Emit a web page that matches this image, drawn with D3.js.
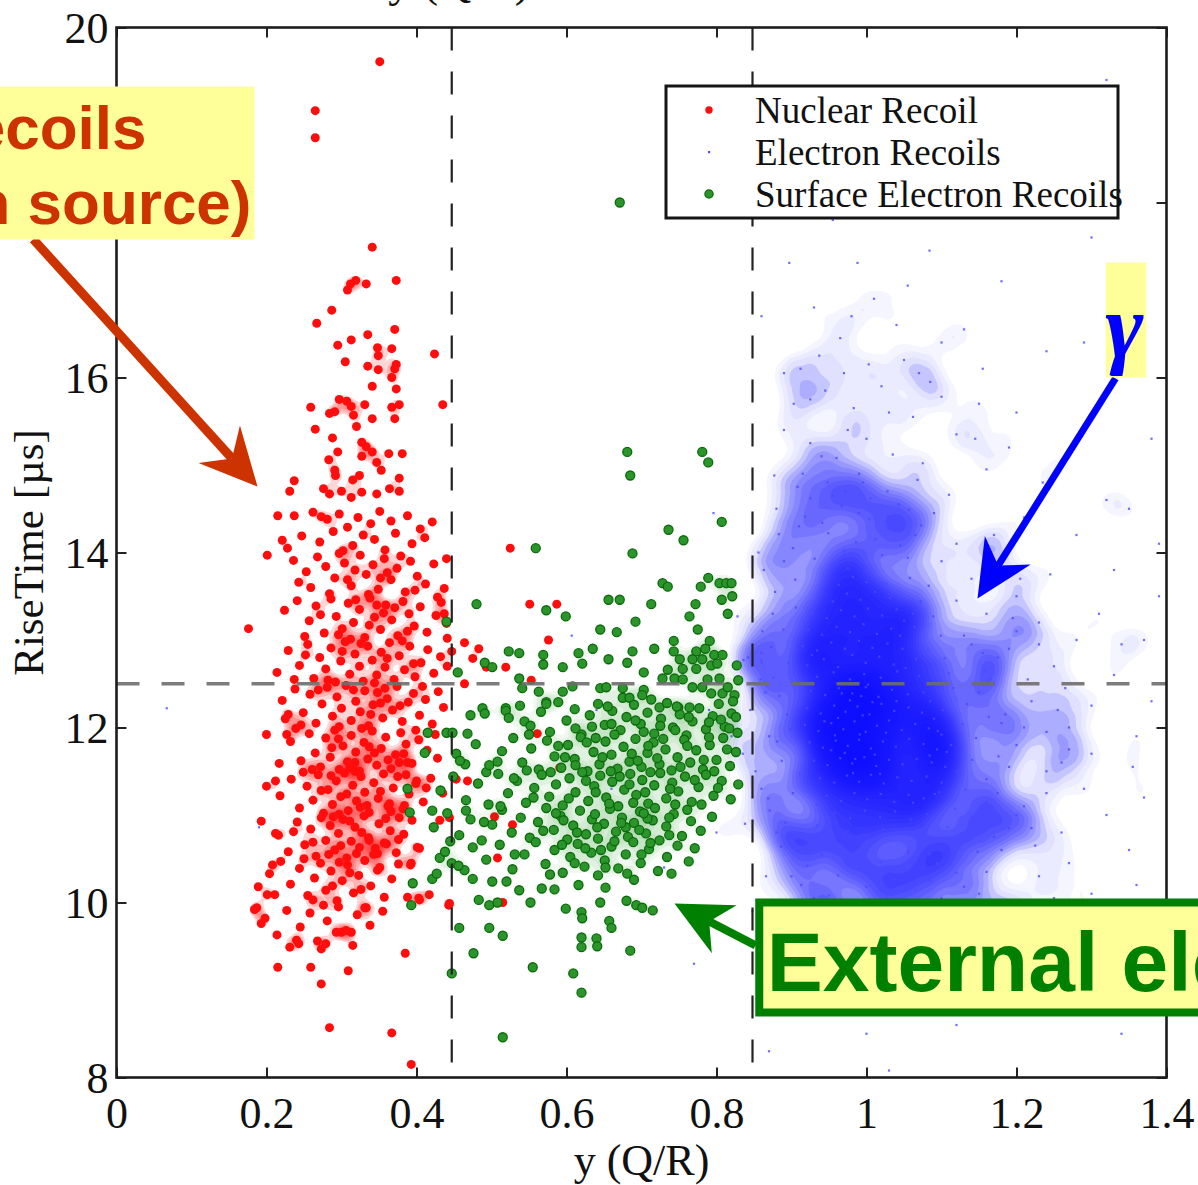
<!DOCTYPE html>
<html><head><meta charset="utf-8">
<script src="https://cdn.jsdelivr.net/npm/d3@7"></script>
<style>html,body{margin:0;padding:0;background:#fff;overflow:hidden}svg{display:block}</style>
</head><body>
<svg id="c" width="1198" height="1185"></svg>
<script>
const xTicks=[0,0.2,0.4,0.6,0.8,1,1.2,1.4];
const xTickLabels=["0","0.2","0.4","0.6","0.8","1","1.2","1.4"];
const yTicks=[8,10,12,14,16,18,20];
const yTickLabels=["8","10","12","14","16","18","20"];
const seriesNames=["Nuclear Recoil","Electron Recoils","Surface Electron Recoils"];
const xCuts=[0.447,0.848];
const yCuts=[12.5];

// Nuclear recoils (red)
const nuclearRecoil=[
[.351,19.61],[.265,19.05],[.265,18.74],[.341,17.49],[.312,17.07],[.319,17.11],[.308,17.0],[.333,17.07],[.373,17.11],[.287,16.77],[.267,16.62],[.371,16.55],[.335,16.49],[.313,16.43],[.295,16.37],[.348,16.34],[.367,16.33],[.349,16.25],[.424,16.27],[.305,16.18],[.335,16.13],[.349,16.09],[.373,16.15],[.371,16.1],[.367,16.0],[.341,15.9],[.373,15.87],[.435,15.69],[.259,15.66],[.297,15.75],[.307,15.73],[.313,15.67],[.331,15.69],[.367,15.66],[.377,15.69],[.284,15.59],[.291,15.61],[.316,15.57],[.341,15.53],[.371,15.53],[.265,15.41],[.32,15.44],[.288,15.31],[.327,15.26],[.333,15.21],[.341,15.15],[.295,15.15],[.283,15.06],[.327,15.1],[.363,15.13],[.381,15.13],[.347,15.03],[.353,14.94],[.291,14.94],[.292,14.88],[.315,14.83],[.324,14.88],[.377,14.85],[.237,14.82],[.231,14.7],[.276,14.73],[.284,14.67],[.3,14.7],[.313,14.63],[.327,14.69],[.347,14.67],[.364,14.73],[.377,14.7],[.215,14.42],[.237,14.42],[.273,14.41],
[.262,14.46],[.281,14.38],[.297,14.44],[.308,14.29],[.322,14.4],[.339,14.33],[.351,14.47],[.366,14.36],[.388,14.42],[.405,14.27],[.247,14.19],[.271,14.12],[.289,14.24],[.315,14.08],[.329,14.2],[.344,14.15],[.358,14.03],[.372,14.22],[.394,14.1],[.411,14.17],[.302,14.02],[.228,14.05],[.201,13.97],[.221,14.14],
[.236,13.91],[.253,13.78],[.268,13.95],[.279,13.84],[.291,13.71],[.304,13.88],[.313,13.62],[.325,13.97],[.333,13.75],[.342,13.86],[.349,13.58],[.357,13.93],[.366,13.69],[.374,13.82],[.385,13.55],[.392,13.9],[.401,13.73],[.412,13.64],[.423,13.87],[.259,13.6],[.284,13.53],[.297,13.99],[.318,13.8],[.336,13.52],[.361,13.77],[.379,13.96],[.398,13.57],[.243,13.66],[.308,13.69],[.352,13.71],
[.176,13.13],[.224,13.34],[.241,13.45],[.257,13.22],[.266,13.39],[.277,13.08],[.286,13.47],[.293,13.27],[.301,13.13],[.309,13.42],[.316,13.2],[.324,13.35],[.331,13.03],[.338,13.48],[.344,13.26],[.352,13.12],[.359,13.4],[.367,13.23],[.375,13.05],[.382,13.44],[.39,13.3],[.397,13.16],[.405,13.38],[.414,13.09],[.426,13.28],[.433,13.43],[.272,13.29],[.296,13.06],[.319,13.46],[.337,13.17],[.356,13.31],[.371,13.37],[.388,13.1],[.251,13.04],[.347,13.4],[.312,13.01],
[.214,12.63],[.229,12.88],[.244,12.71],[.255,12.95],[.263,12.56],[.271,12.8],[.279,12.67],[.286,12.91],[.292,12.52],[.299,12.76],[.305,12.98],[.311,12.61],[.318,12.84],[.324,12.7],[.329,12.53],[.335,12.93],[.341,12.77],[.347,12.6],[.353,12.86],[.358,12.69],[.364,12.97],[.37,12.55],[.377,12.82],[.384,12.66],[.391,12.93],[.398,12.58],[.406,12.74],[.415,12.89],[.423,12.62],[.432,12.81],[.441,12.7],[.282,12.54],[.301,12.87],[.326,12.96],[.344,12.51],[.361,12.79],[.381,12.99],[.252,12.83],[.237,12.55],[.396,12.73],
[.221,12.31],[.238,12.44],[.249,12.17],[.258,12.38],[.266,12.05],[.274,12.27],[.281,12.46],[.288,12.13],[.294,12.35],[.3,12.22],[.306,12.48],[.313,12.08],[.319,12.3],[.325,12.18],[.331,12.42],[.336,12.02],[.342,12.26],[.348,12.4],[.355,12.11],[.361,12.33],[.368,12.2],[.374,12.47],[.381,12.07],[.389,12.29],[.396,12.39],[.404,12.14],[.412,12.32],[.421,12.04],[.429,12.41],[.436,12.23],[.246,12.03],[.269,12.43],[.297,12.01],[.316,12.43],[.339,12.15],[.358,12.45],[.378,12.25],[.408,12.47],[.229,12.15],[.352,12.28],
[.232,11.84],[.246,11.62],[.257,11.93],[.265,11.71],[.272,11.55],[.279,11.88],[.285,11.66],[.291,11.97],[.297,11.52],[.302,11.79],[.308,11.61],[.313,11.91],[.319,11.72],[.324,11.5],[.33,11.83],[.335,11.64],[.341,11.96],[.347,11.57],[.353,11.76],[.359,11.89],[.366,11.53],[.372,11.69],[.379,11.94],[.386,11.81],[.394,11.59],[.403,11.86],[.414,11.74],[.425,11.92],[.261,11.52],[.287,11.77],[.311,11.54],[.327,11.99],[.344,11.71],[.362,11.63],[.383,11.7],[.399,11.97],[.239,11.99],[.296,11.87],[.318,11.6],[.337,11.78],
[.218,11.22],[.233,11.41],[.244,11.08],[.254,11.33],[.262,11.17],[.269,11.46],[.276,11.02],[.282,11.29],[.288,11.12],[.293,11.39],[.299,11.21],[.304,11.48],[.309,11.05],[.315,11.34],[.32,11.16],[.326,11.44],[.331,11.26],[.337,11.03],[.343,11.37],[.349,11.19],[.356,11.47],[.362,11.1],[.369,11.31],[.375,11.44],[.382,11.07],[.39,11.24],[.399,11.36],[.409,11.15],[.419,11.42],[.249,11.49],[.273,11.28],[.297,11.01],[.318,11.5],[.334,11.11],[.352,11.27],[.366,11.04],[.386,11.46],[.286,11.45],[.307,11.24],[.325,11.09],
[.216,10.77],[.229,10.58],[.241,10.92],[.251,10.66],[.259,10.84],[.266,10.53],[.273,10.97],[.279,10.71],[.285,10.88],[.291,10.6],[.296,10.79],[.302,10.95],[.307,10.51],[.313,10.7],[.318,10.86],[.324,10.63],[.33,10.99],[.336,10.74],[.343,10.55],[.35,10.9],[.357,10.68],[.365,10.82],[.373,10.57],[.383,10.78],[.394,10.94],[.262,10.69],[.283,10.55],[.299,10.65],[.311,10.93],[.327,10.8],[.345,10.62],[.359,10.96],[.236,10.81],[.289,10.98],[.32,10.56],[.376,10.72],
[.204,10.33],[.219,10.47],[.232,10.21],[.244,10.39],[.255,10.08],[.264,10.28],[.272,10.45],[.279,10.14],[.286,10.36],[.294,10.02],[.301,10.25],[.308,10.43],[.316,10.11],[.323,10.31],[.331,10.48],[.339,10.19],[.348,10.37],[.357,10.06],[.367,10.27],[.376,10.44],[.25,10.5],[.288,10.19],[.311,10.34],[.262,10.03],[.326,10.15],[.297,10.46],
[.198,9.82],[.214,9.63],[.227,9.91],[.245,9.72],[.258,9.88],[.268,9.56],[.281,9.79],[.296,9.95],[.306,9.68],[.321,9.86],[.338,9.74],[.355,9.9],[.276,9.97],[.243,9.53],
[.2,11.92],[.227,11.92],[.225,12.1],[.2,11.33],[.212,11.39],[.193,10.93],[.212,10.79],[.217,11.59],[.189,10.18],[.201,10.09],[.211,10.09],[.208,10.43],[.187,9.94],[.193,9.76],[.184,9.92],[.231,9.49],[.24,9.57],[.215,9.26],[.259,9.26],[.273,9.07],[.279,9.53],[.273,9.47],[.293,9.66],[.3,9.66],[.313,9.66],[.315,9.51],[.309,9.22],[.385,9.42],[.284,8.57],[.367,8.51],[.393,8.15],[.333,9.94],
[.377,11.6],[.388,11.6],[.4,11.39],[.413,11.31],[.435,11.25],[.428,11.65],[.364,11.13],[.384,11.11],[.377,10.97],[.404,10.62],[.392,10.43],[.388,10.06],[.403,10.05],[.417,10.09],[.443,9.97],[.351,10.4],[.331,9.94],[.348,10.56],[.36,10.67],[.337,10.71],
[.525,14.05],[.551,13.41],[.587,13.41],[.576,13.0],[.464,12.97],[.483,12.9],[.475,12.79],[.493,12.69],[.519,12.69],[.553,12.54],[.464,12.5],[.441,13.02],[.447,12.87],[.44,13.19],[.437,13.3],[.421,14.35],[.44,13.93],[.437,13.59],[.428,13.49],[.561,11.93],[.591,11.54],[.504,10.98],[.528,10.89],[.508,10.51],[.515,10.0],[.444,9.99],[.453,11.41],[.468,11.39],[.444,10.97],[.431,10.94],[.401,10.63],[.393,10.45],[.404,10.03]
];

// Electron recoils (blue)
const electronRecoils=[
[.934,12.58],[.956,12.63],[.978,12.55],[.997,12.61],[1.019,12.57],[1.041,12.64],
[.926,12.42],[.945,12.37],[.963,12.45],[.981,12.39],[.999,12.46],[1.016,12.35],[1.034,12.43],[1.055,12.38],
[.921,12.22],[.939,12.16],[.957,12.25],[.972,12.18],[.988,12.24],[1.004,12.15],[1.02,12.27],[1.037,12.19],[1.056,12.23],[1.074,12.17],
[.918,12.03],[.936,11.96],[.953,12.05],[.969,11.98],[.984,12.07],[.999,11.95],[1.014,12.02],[1.03,12.08],[1.047,11.97],[1.065,12.04],[1.083,11.99],
[.924,11.83],[.942,11.77],[.959,11.85],[.975,11.79],[.99,11.86],[1.006,11.76],[1.022,11.84],[1.039,11.78],[1.057,11.87],[1.076,11.81],[1.094,11.75],
[.93,11.62],[.948,11.57],[.965,11.65],[.981,11.59],[.997,11.66],[1.013,11.56],[1.03,11.63],[1.048,11.58],[1.067,11.64],[1.087,11.6],[1.105,11.55],
[.938,11.42],[.957,11.37],[.974,11.45],[.99,11.38],[1.006,11.46],[1.023,11.36],[1.041,11.43],[1.06,11.39],[1.08,11.44],[1.1,11.37],
[.947,11.22],[.966,11.16],[.984,11.25],[1.001,11.18],[1.019,11.24],[1.037,11.15],[1.056,11.23],[1.076,11.19],[1.097,11.26],
[.957,11.02],[.978,10.96],[.998,11.05],[1.018,10.98],[1.038,11.04],[1.059,10.95],[1.081,11.01],
[.975,10.82],[.999,10.77],[1.022,10.84],[1.046,10.78],[1.07,10.83],
[.962,12.11],[.978,12.31],[.991,11.92],[1.008,12.29],[.971,11.71],[.995,12.14],[1.011,11.69],[.958,11.91],[.985,11.64],[1.026,11.94],[.967,12.39],[1.002,12.49],[.944,12.07],[1.04,12.3],[.982,11.48],[1.018,11.47],[.953,11.74],[.993,12.36],
[.921,12.71],[.943,12.78],[.962,12.69],[.981,12.83],[.999,12.74],[1.017,12.81],[1.036,12.72],
[.915,12.93],[.934,12.88],[.953,12.97],[.971,12.9],[.99,12.99],[1.008,12.91],[1.028,12.96],
[.922,13.12],[.941,13.06],[.96,13.15],[.978,13.09],[.996,13.18],[1.014,13.07],[1.033,13.13],
[.928,13.3],[.947,13.25],[.966,13.34],[.984,13.27],[1.002,13.36],[1.021,13.28],
[.936,13.49],[.955,13.44],[.974,13.53],[.992,13.46],[1.011,13.55],
[.944,13.68],[.963,13.63],[.982,13.72],[1.0,13.66],
[.953,13.86],[.975,13.82],[.994,13.91],
[1.04,13.35],[1.05,13.22],[1.031,13.48],[1.045,13.05],[1.062,13.3],[1.027,13.64],[1.048,12.9],[1.066,12.78],[1.09,12.1],[1.1,11.92],[1.085,12.3],[1.107,11.72],
[.902,14.05],[.918,14.41],[.931,13.93],[.949,14.22],[.967,14.53],[.986,14.12],[1.004,14.38],[1.021,13.97],[1.038,14.27],[1.057,14.49],[.925,14.62],[.97,14.02],[1.012,14.15],[.941,14.34],[1.045,14.08],[.99,14.45],[.883,14.21],[1.073,14.31],
[.878,13.55],[.889,13.12],[.896,12.74],[.884,12.36],[.899,11.98],[.887,11.62],[.902,11.25],[.892,10.91],[.907,10.58],[.873,12.92],[.881,11.84],[.906,13.37],[.894,12.15],[.911,11.47],[.869,11.19],[.9,10.76],[.876,12.57],[.913,12.51],[.905,13.69],[.886,10.64],
[1.058,13.71],[1.072,13.44],[1.064,13.15],[1.081,12.87],[1.093,12.58],[1.076,12.4],[1.102,12.2],[1.095,11.96],[1.113,11.8],[1.121,11.5],[1.132,11.29],[1.118,11.07],[1.108,10.86],[1.125,10.62],[1.094,10.45],[1.141,11.63],[1.152,11.08],[1.137,10.83],[1.089,13.27],[1.104,12.79],[1.116,12.45],[1.128,12.04],[1.146,11.88],[1.16,11.41],[1.055,13.94],[1.083,13.62],[1.099,13.05],[1.11,12.62],[1.134,12.27],[1.163,12.12],[1.148,10.58],[1.12,10.34],[1.171,10.97],[1.157,12.64],[1.176,11.67],
[.921,10.42],[.943,10.65],[.962,10.31],[.981,10.52],[1.0,10.18],[1.019,10.46],[1.037,10.27],[1.055,10.58],[1.074,10.39],[1.092,10.69],[.95,10.08],[.99,10.37],[1.028,10.05],[1.066,10.15],[1.011,10.71],[.934,10.88],[.969,10.74],[1.084,10.55],[.913,10.2],[1.045,10.41],
[.918,11.37],[.927,12.83],[1.062,11.14],[1.07,12.59],[1.084,11.68],[1.052,12.68],[.934,11.12],[1.091,11.24],
[.88,14.5],[.915,14.9],[.94,15.1],[.972,14.7],[1.005,14.62],[1.043,14.55],[1.09,14.45],[1.12,14.1],[1.14,13.7],[1.13,13.05],[1.15,12.4],[1.175,12.8],[1.19,11.55],[1.2,11.0],[1.17,10.75],[1.16,10.35],[1.13,10.18],[1.1,10.05],[1.07,9.8],[1.04,9.85],[1.0,9.7],[.97,9.9],[.93,10.05],[.9,10.3],[.88,10.8],[.86,11.3],[.87,11.9],[.865,12.4],[.86,12.85],[.875,13.3],[.89,13.9],[.91,14.3],[.955,14.65],[.995,14.8],[1.03,14.4],[1.065,14.2],[1.1,13.9],[1.12,13.45],[1.14,12.95],[1.165,12.55],[1.18,12.05],[1.16,11.15],[1.14,10.85],[1.11,10.55],[1.085,10.25],[1.05,10.15],[1.015,10.3],[.975,10.45],[.94,10.55],[.925,10.75],
[.897,17.31],[.988,17.31],[1.084,17.45],[1.32,19.4],[.93,16.8],[.965,16.45],[1.01,16.9],[1.05,16.2],[.912,16.1],[.945,15.85],[.983,15.65],[1.02,15.9],[1.062,15.55],[1.1,15.78],[.89,15.4],[.925,15.25],[.96,15.08],[1.0,15.3],[1.035,15.12],[1.075,15.02],[1.12,15.35],[1.16,14.95],[.877,14.88],[.908,14.75],[.948,14.8],[.99,14.9],[1.028,14.7],[1.068,14.83],[1.11,14.66],[1.2,15.6],[1.24,16.3],[1.13,16.55],[.86,16.7],[1.18,17.1],[1.3,17.6],[1.1,17.9],[1.02,18.2],[.955,17.8],[1.26,15.05],[1.35,14.5],[1.33,13.8],[1.21,14.4],[1.17,14.2],[.937,16.25],[1.04,16.6],[.975,15.4],[1.085,15.95],[.903,15.7],[1.145,15.3],[1.003,16.15],
[.89,16.05],[.925,15.75],[.97,16.05],[1.03,15.6],[1.07,16.05],[1.1,16.4],[1.15,15.7],[1.19,15.2],[1.235,14.8],[.98,16.7],[1.055,17.05],[1.155,16.1],[1.32,14.6],[1.38,15.3],[1.29,16.4],[1.35,16.9],
[1.18,13.9],[1.2,13.5],[1.23,13.2],[1.19,12.9],[1.25,12.7],[1.22,12.3],[1.27,12.0],[1.2,11.8],[1.24,11.5],[1.29,11.3],[1.21,11.1],[1.26,10.8],[1.18,10.6],[1.23,10.3],[1.3,10.1],[1.19,10.0],[1.33,12.6],[1.36,11.9],[1.31,13.3],[1.38,12.3],[1.35,10.6],[1.28,9.7],[1.22,9.5],[1.33,9.2],[1.37,13.0],[1.16,13.3],[1.17,12.5],[1.185,12.15],[1.175,11.25],[1.19,10.85],[1.215,12.55],[1.245,13.75],[1.27,11.75],[1.3,12.25],[1.32,11.0],[1.39,14.1],[1.28,14.2],[1.355,11.55],[1.25,10.05],[1.165,9.8],[1.21,9.15],[1.29,8.9],[1.395,9.8],[1.34,8.5],[1.24,11.95],[1.155,12.85],[1.2,13.1],[1.265,12.45],[1.225,10.65],[1.31,9.6],
[1.16,14.05],[1.205,13.7],[1.23,12.95],[1.21,12.0],[1.24,11.25],[1.22,10.85],[1.255,12.2],[1.195,13.25],[1.28,13.0],[1.26,11.6],[1.2,9.9],[1.27,10.45],[1.3,11.7],[1.34,12.95],[1.37,11.2],[1.39,13.5],[1.36,10.2],
[.845,12.2],[.852,11.5],[.861,13.1],[.838,10.9],[.866,10.3],[.856,14.0],[.842,12.8],[.871,11.05],[.848,9.9],[.863,13.8],[.835,11.7],[.859,12.55],
[.9,9.85],[.93,9.6],[.96,9.82],[.99,9.55],[1.02,9.75],[1.05,9.45],[1.08,9.9],[1.11,9.65],[1.14,9.4],[.915,9.3],[.975,9.15],[1.035,9.1],[1.095,9.2],[.95,8.8],[1.06,8.75],[1.03,8.08],[.88,9.05],[1.12,8.6],[1.0,8.5],[.87,8.3],[1.15,10.1],[1.13,9.95],[.94,9.95],[1.01,9.98],[.95,9.4],[1.06,9.25],[1.1,9.05],[1.165,9.25],[.9,8.95],[1.02,8.9],
[.067,12.22],[.19,10.86],[.796,14.45],[.828,13.27],[.607,13.05],[.836,12.77],[.79,12.2],[.66,11.3],[.73,10.4],[.77,9.3],[.64,12.2],[.8,10.8],[.82,11.9]
];

// Surface electron recoils (green)
const surfaceElectronRecoils=[
[.671,18.0],[.681,15.15],[.685,14.88],[.781,15.15],[.789,15.03],[.807,14.35],[.736,14.26],[.756,14.14],[.688,13.99],[.559,14.05],[.728,13.65],[.735,13.61],[.779,13.61],[.789,13.71],[.804,13.65],[.813,13.65],[.82,13.65],[.807,13.46],[.821,13.5],[.815,13.3],[.772,13.41],[.764,13.27],[.713,13.41],[.692,13.21],[.656,13.46],[.671,13.46],[.645,13.12],[.667,13.09],[.635,12.9],[.656,12.78],[.681,12.74],[.688,12.87],[.717,12.9],[.743,12.99],[.743,12.87],[.775,13.12],[.791,12.99],[.785,12.9],[.773,12.87],[.751,12.78],[.768,12.78],[.781,12.78],[.797,12.83],[.808,12.83],[.827,12.71],[.735,12.66],[.755,12.67],[.773,12.67],[.793,12.71],[.801,12.73],[.703,12.63],[.728,12.56],[.744,12.56],[.755,12.55],[.788,12.55],[.804,12.56],[.829,12.54],[.48,13.41],[.573,13.34],[.599,13.27],[.44,13.21],[.523,12.87],[.537,12.85],[.569,12.83],[.569,12.72],[.595,12.69],[.616,12.85],[.621,12.73],[.491,12.74],[.501,12.69],[.455,12.63],[.537,12.56],[.541,12.45],[.563,12.41],[.595,12.41],[.608,12.47],[.645,12.45],[.653,12.46],[.675,12.45],[.675,12.34],[.684,12.34],[.703,12.43],[.701,12.37],[.713,12.32],[.724,12.23],[.749,12.23],[.764,12.23],[.768,12.46],[.781,12.46],[.793,12.39],[.808,12.39],[.815,12.46],[.824,12.37],[.573,12.29],[.519,12.22],[.488,12.22],
[.457,9.71],[.497,9.71],[.515,9.62],[.476,9.42],[.555,9.26],[.609,9.19],[.62,8.97],[.447,9.19],[.515,8.46],[.685,9.45],[.62,9.6],[.62,9.49],[.64,9.59],[.641,9.5],[.657,9.79],[.66,9.71],[.62,9.89],[.621,9.82],[.599,9.93],[.645,10.0],[.68,10.02],[.693,9.97],[.701,9.94],[.715,9.91],[.393,9.97],[.395,10.22],[.421,10.27],[.483,10.03],[.497,9.97],[.508,10.0],[.552,10.0],[.567,10.16],[.584,10.15],[.537,10.14],[.52,10.24],[.501,10.24],[.475,10.27],[.464,10.37],[.447,10.45],[.427,10.33],[.431,10.51],[.415,11.94],[.44,11.94],[.448,11.94],[.468,11.93],[.472,12.14],[.491,12.16],[.519,12.19],[.544,12.07],[.573,12.27],[.411,11.71],[.453,11.7],[.465,11.58],[.493,11.49],[.508,11.61],[.421,11.05],[.391,11.03],[.388,11.3],
[.523,12.11],[.538,12.25],[.552,12.02],[.566,12.18],[.578,11.95],[.589,12.29],[.6,12.08],[.611,12.21],[.62,11.92],[.631,12.14],[.642,12.27],[.651,12.03],[.661,12.19],[.672,11.97],[.68,12.12],[.69,12.26],[.699,12.04],[.708,12.17],[.717,11.93],[.726,12.1],[.734,12.28],[.742,12.0],[.751,12.15],[.76,11.91],[.768,12.07],[.777,12.22],[.786,11.98],[.795,12.13],[.803,12.27],[.811,12.01],[.82,12.16],[.828,11.94],[.612,11.99],[.655,12.24],[.703,11.95],[.747,12.24],[.79,12.06],[.822,12.3],
[.458,11.62],[.479,11.81],[.497,11.57],[.514,11.73],[.529,11.88],[.541,11.6],[.553,11.76],[.563,11.52],[.574,11.85],[.584,11.67],[.593,11.54],[.602,11.8],[.611,11.64],[.619,11.89],[.628,11.5],[.636,11.72],[.644,11.58],[.652,11.84],[.66,11.69],[.668,11.53],[.676,11.78],[.684,11.61],[.692,11.87],[.7,11.55],[.708,11.71],[.716,11.83],[.724,11.58],[.732,11.75],[.74,11.51],[.748,11.66],[.757,11.86],[.765,11.6],[.773,11.74],[.782,11.52],[.791,11.8],[.8,11.63],[.809,11.88],[.818,11.56],[.826,11.72],[.639,11.88],[.687,11.7],[.721,11.65],[.761,11.79],[.797,11.5],[.598,11.66],[.547,11.51],
[.432,11.28],[.449,11.44],[.466,11.17],[.482,11.36],[.496,11.12],[.509,11.47],[.522,11.25],[.534,11.39],[.546,11.14],[.557,11.31],[.567,11.46],[.577,11.21],[.586,11.35],[.595,11.11],[.604,11.42],[.612,11.26],[.621,11.49],[.629,11.16],[.637,11.33],[.645,11.45],[.653,11.2],[.661,11.38],[.669,11.1],[.677,11.29],[.685,11.47],[.693,11.23],[.701,11.4],[.709,11.13],[.717,11.34],[.725,11.48],[.733,11.19],[.741,11.37],[.749,11.27],[.758,11.44],[.767,11.15],[.776,11.32],[.786,11.46],[.796,11.22],[.807,11.39],[.819,11.18],[.829,11.35],[.659,11.5],[.705,11.26],[.745,11.12],[.639,11.26],[.579,11.49],[.689,11.14],
[.423,10.86],[.441,11.02],[.457,10.77],[.472,10.95],[.487,10.71],[.501,10.89],[.514,11.06],[.527,10.8],[.539,10.97],[.551,10.74],[.562,10.92],[.573,11.08],[.583,10.83],[.592,10.99],[.601,10.72],[.609,10.88],[.618,11.05],[.626,10.78],[.634,10.95],[.642,10.73],[.65,10.9],[.658,11.07],[.666,10.81],[.674,10.97],[.682,10.75],[.69,10.91],[.698,11.04],[.706,10.79],[.715,10.94],[.724,10.71],[.733,10.87],[.743,11.01],[.754,10.76],[.766,10.93],[.779,10.82],[.794,10.98],[.638,11.01],[.679,10.86],[.614,10.8],[.596,10.94],[.708,10.96],
[.438,10.58],[.456,10.42],[.475,10.63],[.493,10.49],[.511,10.66],[.528,10.38],[.544,10.55],[.559,10.69],[.572,10.44],[.584,10.6],[.595,10.34],[.605,10.52],[.615,10.67],[.624,10.41],[.633,10.57],[.642,10.31],[.651,10.48],[.66,10.64],[.669,10.39],[.679,10.55],[.689,10.69],[.699,10.45],[.71,10.61],[.722,10.36],[.734,10.52],[.748,10.65],[.763,10.47],[.611,10.45],[.646,10.6],[.594,10.66],[.681,10.33],
[.612,11.57],[.627,11.83],[.648,11.66],[.664,11.92],[.671,11.44],[.695,11.62],[.712,11.49],[.729,11.87],[.738,11.3],[.752,11.55],[.771,11.4],[.783,11.63],[.802,11.31],[.814,11.75],[.657,11.13],[.673,10.91],[.697,10.83],[.718,11.08],[.737,10.97],[.761,11.06],[.684,11.35],[.703,11.02],[.626,11.39],[.641,10.86],[.586,11.02],[.603,11.19],[.569,10.82],[.556,11.2],[.664,10.7],[.712,10.68],[.625,10.62],[.652,10.4],[.7,10.55],[.737,10.77],[.771,10.62],[.78,11.12],[.79,11.89],[.806,12.09],[.763,12.12],[.725,12.02],[.692,12.08],[.66,12.04],[.634,12.01],[.589,11.79],[.55,11.92],[.53,11.42],[.512,11.1],[.49,10.92],[.466,11.05],[.445,10.7],[.531,10.55],[.578,10.32],[.616,10.2],[.652,10.17],[.69,10.26],[.74,10.33],[.817,11.99],[.826,12.12],[.709,11.79],[.745,11.97]
];

const W=1198,H=1185;
const M={l:116.5,r:1166.5,t:27.5,b:1077.5};
const x=d3.scaleLinear().domain([0,1.4]).range([M.l,M.r]);
const y=d3.scaleLinear().domain([8,20]).range([M.b,M.t]);
const SERIF='"Liberation Serif","Times New Roman",serif';
const SANS='"Liberation Sans",Arial,sans-serif';

const svg=d3.select("#c");
svg.append("rect").attr("width",W).attr("height",H).attr("fill","#fff");
svg.append("defs").append("clipPath").attr("id","plot").append("rect")
  .attr("x",M.l).attr("y",M.t).attr("width",M.r-M.l).attr("height",M.b-M.t);
const plot=svg.append("g").attr("clip-path","url(#plot)");

// density shading drawn from the listed points (low levels faint, upper levels stronger)
function density(pts,color,bw,n,opLow,op,skip,lowFrom){
  const cs=d3.contourDensity().x(d=>x(d[0])).y(d=>y(d[1])).size([W,H]).cellSize(2).bandwidth(bw).thresholds(n)(pts);
  plot.append("g").selectAll("path").data(cs.slice(lowFrom)).join("path")
    .attr("d",d3.geoPath()).attr("fill",color).attr("fill-opacity",(d,i)=>i+lowFrom<skip?opLow:op);
}

// red
density(nuclearRecoil,"#ff0000",6,14,0,0.16,4,4);
plot.append("g").selectAll("circle").data(nuclearRecoil).join("circle")
  .attr("cx",d=>x(d[0])).attr("cy",d=>y(d[1])).attr("r",4.5).attr("fill","#ff0d0d");
// blue
density(electronRecoils,"#1010ff",14,30,0.045,0.13,6,3);
plot.append("g").selectAll("rect").data(electronRecoils).join("rect")
  .attr("x",d=>x(d[0])-1.1).attr("y",d=>y(d[1])-1.1).attr("width",2.2).attr("height",2.2)
  .attr("fill","#4a4aff").attr("fill-opacity",0.8);
// green
density(surfaceElectronRecoils,"#008000",7,12,0,0.06,3,3);
plot.append("g").selectAll("circle").data(surfaceElectronRecoils).join("circle")
  .attr("cx",d=>x(d[0])).attr("cy",d=>y(d[1])).attr("r",4.5).attr("fill","#2b952b").attr("stroke","#0b6b0b").attr("stroke-width",1.3);

// cut lines
const cuts=svg.append("g");
cuts.selectAll("line.v").data(xCuts).join("line").attr("class","v")
  .attr("x1",d=>x(d)).attr("x2",d=>x(d)).attr("y1",M.t).attr("y2",M.b)
  .attr("stroke","#222").attr("stroke-width",2.2).attr("stroke-dasharray","23,21");
cuts.selectAll("line.h").data(yCuts).join("line").attr("class","h")
  .attr("x1",M.l).attr("x2",M.r).attr("y1",d=>y(d)).attr("y2",d=>y(d))
  .attr("stroke","#6e6e6e").attr("stroke-opacity",0.9).attr("stroke-width",3.6).attr("stroke-dasharray","23,22");

// axes
const tk=10;
const ax=svg.append("g");
const gB=ax.append("g").attr("transform",`translate(0,${M.b})`)
  .call(d3.axisBottom(x).tickValues(xTicks).tickFormat((d,i)=>xTickLabels[i]).tickSizeInner(-tk).tickSizeOuter(0));
const gT=ax.append("g").attr("transform",`translate(0,${M.t})`)
  .call(d3.axisTop(x).tickValues(xTicks).tickFormat("").tickSizeInner(-tk).tickSizeOuter(0));
const gL=ax.append("g").attr("transform",`translate(${M.l},0)`)
  .call(d3.axisLeft(y).tickValues(yTicks).tickFormat((d,i)=>yTickLabels[i]).tickSizeInner(-tk).tickSizeOuter(0));
const gR=ax.append("g").attr("transform",`translate(${M.r},0)`)
  .call(d3.axisRight(y).tickValues(yTicks).tickFormat("").tickSizeInner(-tk).tickSizeOuter(0));
ax.selectAll(".domain").remove();
ax.selectAll(".tick line").attr("stroke","#222").attr("stroke-width",2);
ax.selectAll(".tick text").attr("font-family",SERIF).attr("font-size",44).attr("fill","#111");
gB.selectAll(".tick text").attr("y",50).attr("dy",0);
gL.selectAll(".tick text").attr("x",-8).attr("dy",0).attr("y",15);
gT.selectAll(".tick text").remove();
gR.selectAll(".tick text").remove();
svg.append("rect").attr("x",M.l).attr("y",M.t).attr("width",M.r-M.l).attr("height",M.b-M.t)
  .attr("fill","none").attr("stroke","#1c1c1c").attr("stroke-width",2.6);

// axis titles
svg.append("text").attr("x",(M.l+M.r)/2).attr("y",1175).attr("text-anchor","middle")
  .attr("font-family",SERIF).attr("font-size",44).attr("fill","#111").text("y (Q/R)");
svg.append("text").attr("transform",`translate(43,${(M.t+M.b)/2}) rotate(-90)`).attr("text-anchor","middle")
  .attr("font-family",SERIF).attr("font-size",43).attr("fill","#111").text("RiseTime [µs]");
svg.append("text").attr("x",530).attr("y",-4).attr("text-anchor","end")
  .attr("font-family",SERIF).attr("font-size",46).attr("fill","#111").text("RiseTime vs. y (Q/R)");

// legend
const lg=svg.append("g");
lg.append("rect").attr("x",666).attr("y",86).attr("width",452).attr("height",132)
  .attr("fill","#fff").attr("stroke","#151515").attr("stroke-width",3);
const rows=[110,152,194];
lg.append("circle").attr("cx",709).attr("cy",rows[0]).attr("r",3.7).attr("fill","#ff0d0d");
lg.append("rect").attr("x",708).attr("y",rows[1]-1).attr("width",2.2).attr("height",2.2).attr("fill","#4a4aff");
lg.append("circle").attr("cx",709).attr("cy",rows[2]).attr("r",4.1).attr("fill","#2b952b").attr("stroke","#0b6b0b").attr("stroke-width",1.3);
lg.selectAll("text").data(seriesNames).join("text").attr("x",755).attr("y",(d,i)=>rows[i]+13)
  .attr("font-family",SERIF).attr("font-size",37).attr("fill","#111").text(d=>d);

// annotations
const an=svg.append("g");
function arrow(s,t,w,L,Hh,n,color){
  const sx=x(s[0]),sy=y(s[1]),tx=x(t[0]),ty=y(t[1]);
  const dx=tx-sx,dy=ty-sy,len=Math.hypot(dx,dy),ux=dx/len,uy=dy/len,px=-uy,py=ux;
  const bx=tx-ux*L,by=ty-uy*L,nx=tx-ux*(L-n),ny=ty-uy*(L-n);
  an.append("line").attr("x1",sx).attr("y1",sy).attr("x2",nx).attr("y2",ny).attr("stroke",color).attr("stroke-width",w);
  an.append("path").attr("d",`M${tx},${ty}L${bx+px*Hh},${by+py*Hh}L${nx},${ny}L${bx-px*Hh},${by-py*Hh}Z`).attr("fill",color);
}
const YEL="#ffff99", RED="#cc3300", GRN="#008000", BLU="#0000ff";
arrow([-0.111,17.58],[0.188,14.754],9,57,28,19,RED);
arrow([1.332,15.99],[1.148,13.474],7,57,27,18,BLU);
arrow([0.852,9.51],[0.744,9.989],8,56,27,17,GRN);
// red box
an.append("rect").attr("x",x(-0.16)).attr("y",y(19.326)).attr("width",x(0.184)-x(-0.16)).attr("height",y(17.577)-y(19.326)).attr("fill",YEL);
an.append("text").attr("x",x(0.04)).attr("y",y(18.617)).attr("text-anchor","end").attr("font-family",SANS).attr("font-weight","bold").attr("font-size",62).attr("fill",RED).text("Nuclear Recoils");
an.append("text").attr("x",x(0.18)).attr("y",y(17.76)).attr("text-anchor","end").attr("font-family",SANS).attr("font-weight","bold").attr("font-size",62).attr("fill",RED).text("(neutron source)");
// gamma box
an.append("rect").attr("x",x(1.319)).attr("y",y(17.314)).attr("width",x(1.373)-x(1.319)).attr("height",y(16.0)-y(17.314)).attr("fill",YEL);
an.append("text").attr("x",x(1.344)).attr("y",y(16.24)).attr("text-anchor","middle").attr("font-family",SERIF).attr("font-style","italic").attr("font-weight","bold").attr("font-size",92).attr("fill",BLU).text("γ");
// green box
an.append("rect").attr("x",x(0.857)).attr("y",y(10.0)).attr("width",x(1.9)-x(0.857)).attr("height",y(8.743)-y(10.0)).attr("fill",YEL).attr("stroke",GRN).attr("stroke-width",8);
an.append("text").attr("x",x(0.867)).attr("y",y(8.994)).attr("font-family",SANS).attr("font-weight","bold").attr("font-size",84).attr("fill",GRN).text("External electrons");
</script>
</body></html>
